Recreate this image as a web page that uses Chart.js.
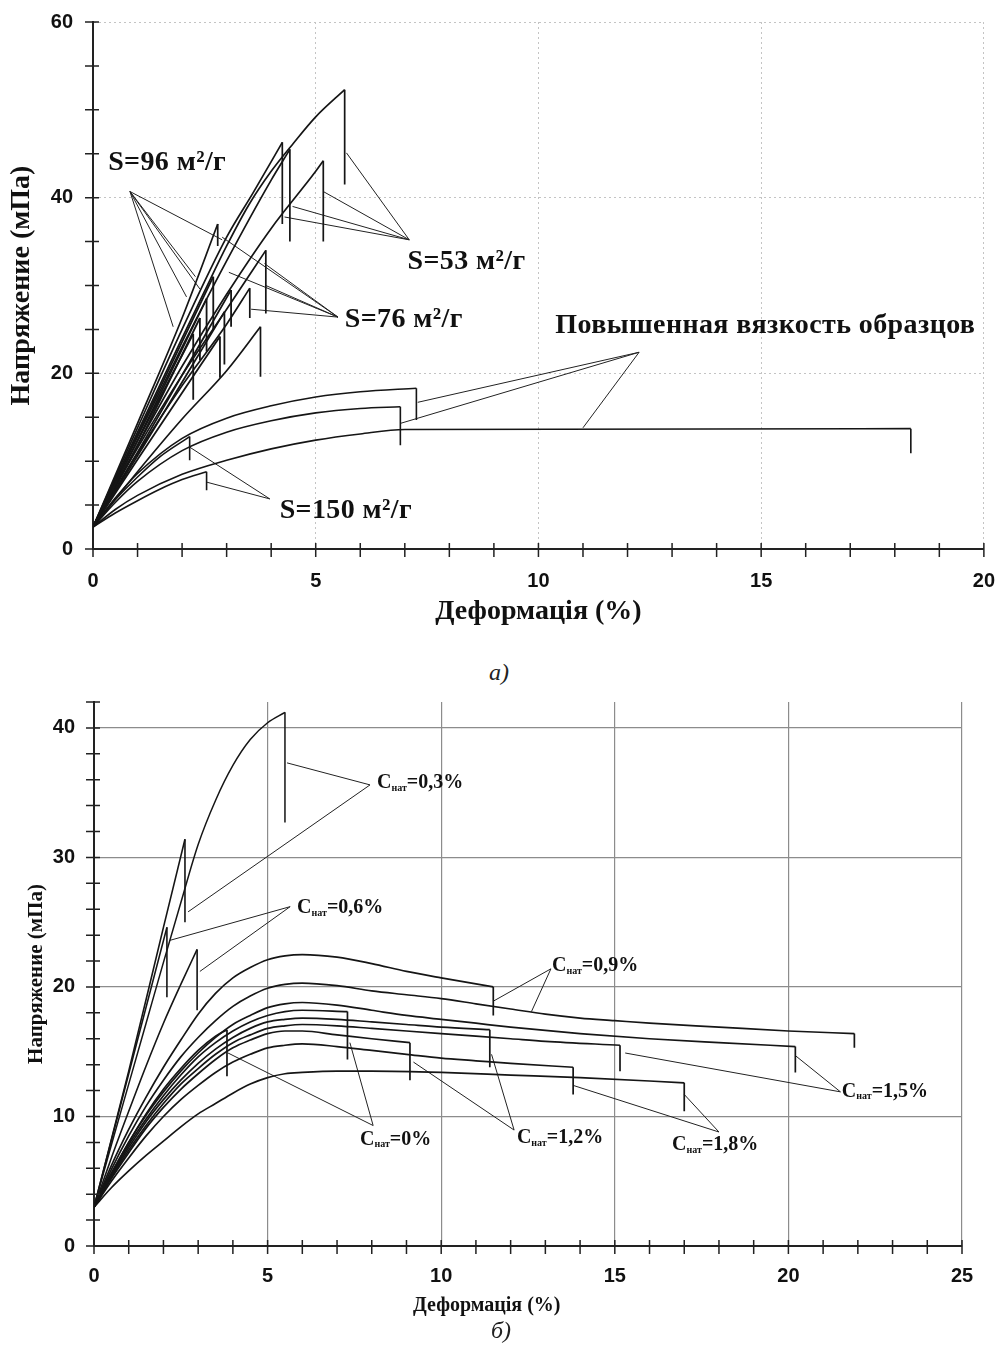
<!DOCTYPE html>
<html lang="ru">
<head>
<meta charset="utf-8">
<title>Напряжение – деформация</title>
<script src="https://cdn.jsdelivr.net/npm/chart.js@4.4.1/dist/chart.umd.min.js"></script>
<style>
  html, body { margin: 0; padding: 0; background: #fff; }
  #page { position: relative; width: 995px; height: 1347px; overflow: hidden; }
  canvas { position: absolute; left: 0; }
  #chartA { top: 0; }
  #chartB { top: 690px; }
  .cap { position: absolute; font: italic 24px 'Liberation Serif', 'Times New Roman', serif; color: #222; }
  .xtitle { position: absolute; font: bold 20px 'Liberation Serif', 'Times New Roman', serif; color: #111; }
</style>
</head>
<body>
<div id="page">
  <canvas id="chartA" width="995" height="640"></canvas>
  <div class="cap" style="left:489px; top:659px;">а)</div>
  <canvas id="chartB" width="995" height="657"></canvas>
  <div class="xtitle" style="left:413px; top:1293px;">Деформація (%)</div>
  <div class="cap" style="left:491px; top:1317px;">б)</div>
</div>
<script>
// ---------- а) разные S наполнителя ----------
const aS53 = [
  [[0,2.5],[1,13.3],[2,24],[2.5,29.3],[3,34.5],[3.5,39.2],[4,43],[4.5,46.2],[5,49.2],[5.65,52.3]],
  [[0,2.5],[1,13.8],[2,25],[3,35.5],[3.6,40.6],[4.25,46.3]],
  [[0,2.5],[1,12.8],[2,23],[3,32.8],[4,42],[4.42,45.5]],
  [[0,2.5],[1,11.8],[2,20.8],[3,29],[4,36.5],[5,43],[5.17,44.2]]
];
const aS53Drop = [41.5, 37, 35, 35];

const aS76 = [
  [[0,2.5],[1,14.3],[2,26.3],[2.8,37]],
  [[0,2.5],[1,11.5],[2,19.8],[3,27.3],[3.88,34]],
  [[0,2.5],[1,10.9],[2,18.6],[3,25.6],[3.52,29.7]],
  [[0,2.5],[1,8.8],[2,14.8],[3,20.3],[3.76,25.3]]
];
const aS76Drop = [34.5, 26.8, 26.3, 19.6];

const aS96 = [
  [[0,2.5],[1,12.3],[2.25,24.5]],
  [[0,2.5],[1,12.4],[2.55,28.5]],
  [[0,2.5],[1,13],[2.7,31]],
  [[0,2.5],[1,10.6],[2.95,27]],
  [[0,2.5],[1,11],[3.1,29.5]],
  [[0,2.5],[1,11.8],[2.4,26.3]],
  [[0,2.5],[1,10.2],[2.85,24.2]]
];
const aS96Drop = [17, 22.5, 25, 21, 25.3, 21.5, 19.5];

const aS150 = [
  [[0,2.5],[0.5,5.6],[1,8.2],[1.5,10.5],[2.17,12.8]],
  [[0,2.5],[0.5,4.1],[1,5.5],[1.5,6.8],[2,7.9],[2.55,8.8]]
];
const aS150Drop = [10.1, 6.7];

const aTough = [
  [[0,2.5],[0.5,5.8],[1,8.6],[2,12.6],[3,14.9],[4,16.3],[5,17.3],[6,17.9],[7.26,18.3]],
  [[0,2.5],[0.5,5.3],[1,7.7],[2,11.2],[3,13.3],[4,14.6],[5,15.5],[6,16],[6.9,16.2]],
  [[0,2.5],[0.5,4.5],[1,6.1],[2,8.5],[3,10.1],[4,11.4],[5,12.4],[6,13.1],[7,13.6],[18.36,13.7]]
];
const aToughDrop = [14.7, 11.8, 10.9];

const aLeaders = [
  [[0.83,40.7],[1.8,25.3]], [[0.83,40.7],[2.1,28.7]], [[0.83,40.7],[2.3,31]],
  [[0.83,40.7],[2.4,29.6]], [[0.83,40.7],[2.9,35.2]],
  [[5.5,26.4],[2.9,35.5]], [[5.5,26.4],[3.85,32.5]], [[5.5,26.4],[3.05,31.5]],
  [[5.5,26.4],[3.55,27.3]], [[5.5,26.4],[3.88,30]],
  [[7.1,35.2],[5.69,45.1]], [[7.1,35.2],[5.17,40.7]], [[7.1,35.2],[4.48,39]], [[7.1,35.2],[4.3,37.8]],
  [[3.97,5.7],[2.17,11.6]], [[3.97,5.7],[2.56,7.6]],
  [[12.26,22.4],[7.29,16.7]], [[12.26,22.4],[6.9,14.3]], [[12.26,22.4],[11.0,13.8]]
];
const aNoteText = ['S=96 м²/г', 'S=53 м²/г', 'S=76 м²/г', 'S=150 м²/г', 'Повышенная вязкость образцов'];
const aNoteAt = [[0.34,44.0], [7.06,32.7], [5.65,26.1], [4.19,4.4], [10.38,25.4]];

// ---------- б) разная концентрация ----------
const bC03 = [
  [[0,3],[0.5,7.8],[1,12.5],[1.5,17.2],[2,21.9],[2.5,26.5],[3,31],[3.5,34.4],[4,37.1],[4.5,39.1],[5,40.4],[5.5,41.2]]
];
const bC03Drop = [32.7];

const bC06 = [
  [[0,3],[1,13.5],[2,24.6],[2.62,31.4]],
  [[0,3],[1,13.3],[2.1,24.6]],
  [[0,3],[0.5,6.8],[1,10.4],[1.5,13.9],[2,17.2],[2.5,20.2],[2.97,22.9]]
];
const bC06Drop = [25, 19.2, 18.2];

const bC09 = [
  [[0,3],[0.5,6.2],[1,9],[1.5,11.5],[2,13.8],[2.5,15.9],[3,17.9],[3.5,19.5],[4,20.7],[4.5,21.5],[5,22.1],[5.5,22.4],[6,22.5],[7,22.3],[8,21.8],[9,21.2],[10,20.7],[11.5,20]],
  [[0,3],[0.5,5.9],[1,8.5],[1.5,10.8],[2,12.8],[2.5,14.6],[3,16.1],[3.5,17.4],[4,18.5],[4.5,19.3],[5,19.9],[5.5,20.2],[6,20.3],[7,20.1],[8,19.7],[9,19.4],[10,19.1],[11,18.7],[12,18.3],[13,17.9],[14,17.6],[15,17.4],[16,17.2],[18,16.9],[20,16.6],[21.9,16.4]]
];
const bC09Drop = [17.8, 15.3];

const bC15 = [
  [[0,3],[0.5,5.6],[1,8],[1.5,10.1],[2,11.9],[2.5,13.5],[3,14.9],[3.5,16.1],[4,17.1],[4.5,17.8],[5,18.4],[5.5,18.7],[6,18.8],[7,18.6],[8,18.2],[9,17.8],[10,17.5],[11,17.2],[12,16.9],[14,16.4],[16,16],[18,15.7],[20.2,15.4]],
  [[0,3],[0.5,5.3],[1,7.4],[1.5,9.3],[2,11],[2.5,12.5],[3,13.7],[3.5,14.8],[4,15.7],[4.5,16.3],[5,16.8],[5.5,17],[6,17.1],[7,17],[8,16.8],[9,16.6],[10,16.4],[11,16.2],[12,16],[13,15.8],[15.15,15.5]]
];
const bC15Drop = [13.4, 13.5];

const bC12 = [
  [[0,3],[0.5,5.4],[1,7.6],[1.5,9.6],[2,11.3],[2.5,12.8],[3,14.1],[3.5,15.2],[4,16.1],[4.5,16.8],[5,17.3],[5.5,17.5],[6,17.6],[7,17.5],[8,17.3],[9,17.1],[10,16.9],[11.4,16.7]],
  [[0,3],[0.5,5.2],[1,7.2],[1.5,9.1],[2,10.7],[2.5,12.1],[3,13.3],[3.5,14.4],[4,15.3],[4.5,15.9],[5,16.4],[5.5,16.6],[6,16.6],[7,16.3],[8,16],[9.1,15.7]]
];
const bC12Drop = [13.8, 12.8];

const bC18 = [
  [[0,3],[0.5,5],[1,6.8],[1.5,8.5],[2,10],[2.5,11.3],[3,12.4],[3.5,13.4],[4,14.2],[4.5,14.8],[5,15.3],[5.5,15.5],[6,15.6],[7,15.4],[8,15.1],[9,14.8],[10,14.5],[11,14.3],[12,14.1],[13.8,13.8]],
  [[0,3],[0.5,4.5],[1,5.8],[1.5,7],[2,8.1],[2.5,9.2],[3,10.2],[3.5,11],[4,11.8],[4.5,12.5],[5,13],[5.5,13.3],[6,13.4],[7,13.5],[8,13.5],[10,13.4],[12,13.2],[14,13],[17,12.6]]
];
const bC18Drop = [11.7, 10.4];

const bC0 = [
  [[0,3],[0.5,5.5],[1,7.8],[1.5,9.8],[2,11.6],[2.5,13.2],[3,14.6],[3.5,15.7],[4,16.6],[4.5,17.3],[5,17.8],[5.5,18.1],[6,18.2],[7.3,18.1]],
  [[0,3],[0.5,5.6],[1,8],[1.5,10.2],[2,12.1],[2.5,13.7],[3,15.1],[3.5,16.2],[3.83,16.7]]
];
const bC0Drop = [14.4, 13.1];

const bLeaders = [
  [[7.95,35.6],[5.56,37.3]], [[7.95,35.6],[2.71,25.8]],
  [[5.65,26.2],[2.19,23.6]], [[5.65,26.2],[3.05,21.2]],
  [[13.16,21.4],[11.5,18.9]], [[13.16,21.4],[12.6,18.1]],
  [[21.5,11.9],[20.2,14.7]], [[21.5,11.9],[15.3,14.9]],
  [[18.0,8.8],[17.0,11.7]], [[18.0,8.8],[13.8,12.4]],
  [[12.1,8.95],[11.45,14.8]], [[12.1,8.95],[9.2,14.2]],
  [[8.04,9.3],[3.86,14.9]], [[8.04,9.3],[7.37,15.7]]
];
const bNoteConc = ['0,3%', '0,6%', '0,9%', '1,5%', '1,8%', '1,2%', '0%'];
const bNoteAt = [[8.15,35.75], [5.85,26.1], [13.19,21.6], [21.54,11.9], [16.65,7.8], [12.18,8.34], [7.66,8.19]];

// ---------- общие вещи ----------
const SERIF = "'Liberation Serif', 'Times New Roman', serif";
const SANS = "'Liberation Sans', Arial, sans-serif";

function pts(arr) {
  return arr.map(p => ({ x: p[0], y: p[1] }));
}

// кривая + вертикальный сброс в точке разрушения
function curveSets(curves, drops, width) {
  const out = [];
  curves.forEach((c, i) => {
    const last = c[c.length - 1];
    out.push({ data: pts(c), borderColor: '#151515', borderWidth: width, cubicInterpolationMode: 'monotone' });
    out.push({ data: pts([last, [last[0], drops[i]]]), borderColor: '#151515', borderWidth: width });
  });
  return out;
}

function leaderSets(lines) {
  return lines.map(l => ({ data: pts(l), borderColor: '#222', borderWidth: 1 }));
}

// подписи на поле графика
const notes = {
  id: 'notes',
  afterDatasetsDraw(chart, args, opts) {
    const ctx = chart.ctx;
    const xs = chart.scales.x, ys = chart.scales.y;
    ctx.save();
    ctx.fillStyle = '#111';
    ctx.textBaseline = 'middle';
    ctx.textAlign = 'left';
    opts.items.forEach(n => {
      let px = xs.getPixelForValue(n.at[0]);
      const py = ys.getPixelForValue(n.at[1]);
      n.parts.forEach(part => {
        ctx.font = part.font;
        ctx.letterSpacing = part.spacing || '0px';
        ctx.fillText(part.text, px, py + (part.dy || 0));
        px += ctx.measureText(part.text).width;
      });
    });
    ctx.restore();
  }
};

// засечки пересекают ось (наружу 8px, внутрь 6px)
const crossTicks = {
  id: 'crossTicks',
  afterDraw(chart) {
    const ctx = chart.ctx;
    const {x, y} = chart.scales;
    const area = chart.chartArea;
    ctx.save();
    ctx.strokeStyle = '#222';
    ctx.lineWidth = 1.5;
    ctx.beginPath();
    x.ticks.forEach(t => {
      const px = x.getPixelForValue(t.value);
      ctx.moveTo(px, area.bottom + 8);
      ctx.lineTo(px, area.bottom - 6);
    });
    y.ticks.forEach(t => {
      const py = y.getPixelForValue(t.value);
      ctx.moveTo(area.left - 8, py);
      ctx.lineTo(area.left + 6, py);
    });
    ctx.stroke();
    ctx.restore();
  }
};

function axes(cfg) {
  const grid = {
    color: c => (c.tick && c.tick.value % cfg.major === 0) ? cfg.gridColor : 'rgba(0,0,0,0)',
    lineWidth: cfg.gridWidth,
    tickColor: 'rgba(0,0,0,0)',
    tickLength: cfg.gap
  };
  return {
    type: 'linear',
    min: cfg.min, max: cfg.max,
    afterFit: cfg.fit,
    grid: grid,
    border: { display: true, color: '#222', width: 2, dash: cfg.dash },
    ticks: {
      stepSize: cfg.step, autoSkip: false, maxRotation: 0,
      padding: 0,
      color: '#111',
      font: { family: SANS, weight: 'bold', size: cfg.tickSize },
      callback: v => (v % cfg.major === 0 ? String(v) : '')
    },
    title: {
      display: !!cfg.title, text: cfg.title, color: '#111',
      font: { family: SERIF, weight: 'bold', size: cfg.titleSize },
      padding: cfg.titlePad
    }
  };
}

function baseOptions(pad) {
  return {
    responsive: false,
    animation: false,
    layout: { padding: pad },
    showLine: true,
    elements: { point: { radius: 0 }, line: { tension: 0 } },
    plugins: { legend: { display: false }, tooltip: { enabled: false } }
  };
}

// ---------- график а) ----------
const optsA = baseOptions({ top: 22, right: 10, left: 0, bottom: 0 });
optsA.scales = {
  x: axes({ min: 0, max: 20, step: 1, major: 5, gap: 20, tickSize: 20,
    gridColor: '#c4c4c4', gridWidth: 1, dash: [2, 3],
    title: 'Деформація (%)', titleSize: 28, titlePad: { top: 0, bottom: 11 },
    fit: s => { s.height = 91; } }),
  y: axes({ min: 0, max: 60, step: 5, major: 20, gap: 20, tickSize: 20,
    gridColor: '#c4c4c4', gridWidth: 1, dash: [2, 3],
    title: 'Напряжение (мПа)', titleSize: 28, titlePad: { top: 5, bottom: 0 },
    fit: s => { s.width = 93; } })
};
optsA.plugins.notes = {
  items: aNoteText.map((t, i) => ({ at: aNoteAt[i], parts: [{ text: t, font: 'bold 28px ' + SERIF, spacing: '0.4px' }] }))
};

new Chart(document.getElementById('chartA'), {
  type: 'scatter',
  data: {
    datasets: [].concat(
      curveSets(aS96, aS96Drop, 1.8),
      curveSets(aS76, aS76Drop, 1.7),
      curveSets(aS53, aS53Drop, 1.7),
      curveSets(aS150, aS150Drop, 1.6),
      curveSets(aTough, aToughDrop, 1.6),
      leaderSets(aLeaders)
    )
  },
  options: optsA,
  plugins: [notes, crossTicks]
});

// ---------- график б) ----------
const optsB = baseOptions({ top: 12, right: 33, left: 0, bottom: 0 });
optsB.scales = {
  x: axes({ min: 0, max: 25, step: 1, major: 5, gap: 18, tickSize: 20,
    gridColor: '#8c8c8c', gridWidth: 1.2, dash: [],
    title: '', titleSize: 20, titlePad: 0,
    fit: s => { s.height = 101; } }),
  y: axes({ min: 0, max: 42, step: 2, major: 10, gap: 19, tickSize: 20,
    gridColor: '#8c8c8c', gridWidth: 1.2, dash: [],
    title: 'Напряжение (мПа)', titleSize: 21, titlePad: { top: 24, bottom: 0 },
    fit: s => { s.width = 94; } })
};
optsB.plugins.notes = {
  items: bNoteConc.map((c, i) => ({
    at: bNoteAt[i],
    parts: [
      { text: 'С', font: 'bold 20px ' + SERIF },
      { text: 'нат', font: 'bold 10px ' + SERIF, dy: 5 },
      { text: '=' + c, font: 'bold 20px ' + SERIF }
    ]
  }))
};

new Chart(document.getElementById('chartB'), {
  type: 'scatter',
  data: {
    datasets: [].concat(
      curveSets(bC03, bC03Drop, 1.5),
      curveSets(bC06, bC06Drop, 1.6),
      curveSets(bC09, bC09Drop, 1.7),
      curveSets(bC15, bC15Drop, 1.7),
      curveSets(bC12, bC12Drop, 1.7),
      curveSets(bC18, bC18Drop, 1.7),
      curveSets(bC0, bC0Drop, 1.7),
      leaderSets(bLeaders)
    )
  },
  options: optsB,
  plugins: [notes, crossTicks]
});
</script>
</body>
</html>
